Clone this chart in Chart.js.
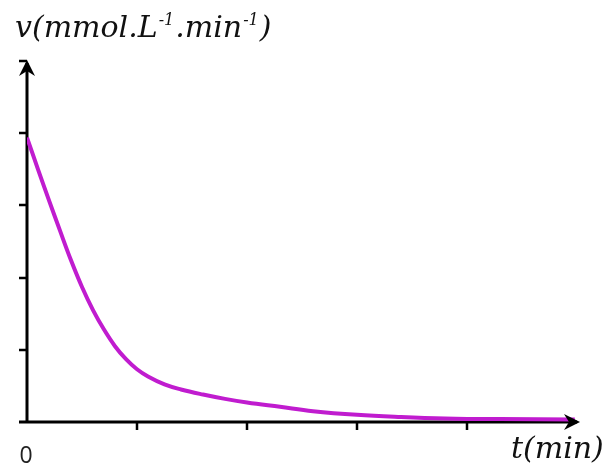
<!DOCTYPE html>
<html>
<head>
<meta charset="utf-8" />
<script src="https://cdn.jsdelivr.net/npm/chart.js@4.4.1/dist/chart.umd.min.js"></script>
<style>
  body { margin: 0; background: #fff; }
</style>
</head>
<body>
<canvas id="myChart" width="614" height="471"></canvas>
<script>
// curve (t and v in tick units)
const tValues = [0, 0.1, 0.2, 0.3, 0.4, 0.5, 0.6, 0.7, 0.8, 0.9, 1.0, 1.1, 1.25, 1.4, 1.6, 1.8, 2.0, 2.3, 2.6, 3.0, 3.4, 3.8, 4.3, 4.98];
const vValues = [3.94, 3.50, 3.07, 2.65, 2.24, 1.87, 1.55, 1.28, 1.05, 0.87, 0.73, 0.63, 0.52, 0.45, 0.38, 0.32, 0.27, 0.21, 0.15, 0.10, 0.07, 0.05, 0.04, 0.035];
const xTicks = [1, 2, 3, 4];
const yTicks = [1, 2, 3, 4, 5];
const xTickLabels = ['0'];

const points = tValues.map((t, i) => ({x: t, y: vValues[i]}));

function arrow(ctx, tipX, tipY, dir) {
    ctx.save();
    ctx.translate(tipX, tipY);
    if (dir === 'up') ctx.rotate(-Math.PI / 2);
    ctx.beginPath();
    ctx.moveTo(0, 0);
    ctx.lineTo(-16, -8);
    ctx.lineTo(-11, 0);
    ctx.lineTo(-16, 8);
    ctx.closePath();
    ctx.fillStyle = '#000';
    ctx.fill();
    ctx.restore();
}

const axesPlugin = {
    id: 'hand_axes',
    beforeDatasetsDraw: (chart) => {
        const {ctx} = chart;
        const xs = chart.scales.x, ys = chart.scales.y;
        const x0 = xs.getPixelForValue(0), y0 = ys.getPixelForValue(0);
        const xEnd = xs.getPixelForValue(5), yEnd = ys.getPixelForValue(5);
        ctx.save();
        ctx.strokeStyle = '#000';
        ctx.lineWidth = 3;
        ctx.beginPath();
        ctx.moveTo(x0 - 8, y0);
        ctx.lineTo(xEnd, y0);
        ctx.moveTo(x0, y0 + 1.5);
        ctx.lineTo(x0, yEnd + 2);
        ctx.stroke();

        ctx.lineWidth = 2.5;
        ctx.beginPath();
        xTicks.forEach(v => {
            const px = Math.round(xs.getPixelForValue(v));
            ctx.moveTo(px, y0);
            ctx.lineTo(px, y0 + 8);
        });
        yTicks.forEach(v => {
            const py = Math.round(ys.getPixelForValue(v));
            ctx.moveTo(x0, py);
            ctx.lineTo(x0 - 8, py);
        });
        ctx.stroke();

        ctx.fillStyle = '#222';
        ctx.font = "23px 'Open Sans'";
        ctx.textAlign = 'center';
        ctx.textBaseline = 'middle';
        ctx.fillText(xTickLabels[0], x0 - 1, y0 + 34);

        // axis titles
        ctx.fillStyle = '#111';
        ctx.textAlign = 'left';
        ctx.textBaseline = 'alphabetic';
        const big = "italic 30px 'DejaVu Serif'";
        const small = "italic 16px 'DejaVu Serif'";
        const parts = [
            ['v(mmol.L', big, 0],
            ['-1', small, -12],
            ['.min', big, 0],
            ['-1', small, -12],
            [')', big, 0]
        ];
        let cx = 15;
        parts.forEach(([txt, f, dy]) => {
            ctx.font = f;
            ctx.fillText(txt, cx, 37 + dy);
            cx += ctx.measureText(txt).width + 1;
        });
        ctx.font = big;
        ctx.fillText('t(min)', 511, 458);
        ctx.restore();
    },
    afterDatasetsDraw: (chart) => {
        const {ctx} = chart;
        const xs = chart.scales.x, ys = chart.scales.y;
        const x0 = xs.getPixelForValue(0), y0 = ys.getPixelForValue(0);
        arrow(ctx, xs.getPixelForValue(5) + 3, y0, 'right');
        arrow(ctx, x0, ys.getPixelForValue(5) - 1, 'up');
    }
};

new Chart(document.getElementById('myChart'), {
    type: 'line',
    data: {
        datasets: [{
            data: points,
            borderColor: '#c01ccf',
            borderWidth: 4,
            pointRadius: 0,
            tension: 0.4,
            fill: false
        }]
    },
    options: {
        responsive: false,
        animation: false,
        layout: { padding: { left: 27, right: 37, top: 61, bottom: 49 } },
        plugins: { legend: { display: false }, tooltip: { enabled: false } },
        scales: {
            x: { type: 'linear', min: 0, max: 5, display: false },
            y: { type: 'linear', min: 0, max: 5, display: false }
        }
    },
    plugins: [axesPlugin]
});
</script>
</body>
</html>
